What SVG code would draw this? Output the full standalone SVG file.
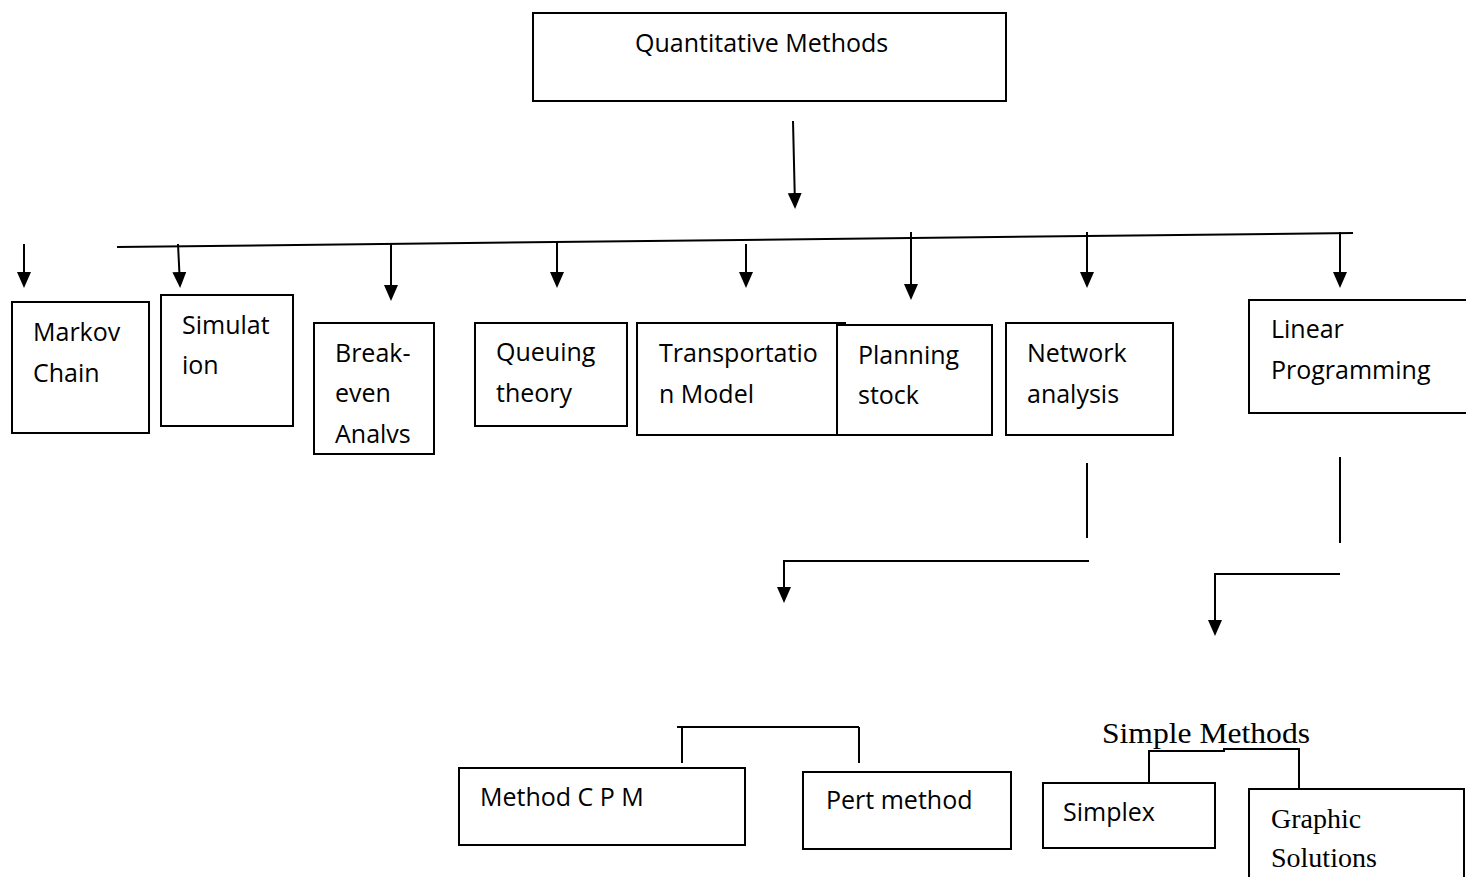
<svg xmlns="http://www.w3.org/2000/svg" width="1466" height="877" viewBox="0 0 1466 877">
<style>
.box{fill:#fff;stroke:#000;stroke-width:2}
.ln{fill:none;stroke:#000;stroke-width:2}
.t{font-family:"Open Sans","Liberation Sans",sans-serif;font-size:25px;fill:#000}
.s{font-family:"Liberation Serif","Times New Roman",serif;fill:#000}
</style>
<defs>
<marker id="ah" markerUnits="userSpaceOnUse" markerWidth="16" markerHeight="14" refX="13" refY="7" orient="auto">
<path d="M0,0 L16,7 L0,14 Z" fill="#000"/>
</marker>
</defs>
<rect width="1466" height="877" fill="#fff"/>
<g id="connectors">
<line class="ln" x1="793" y1="121" x2="795" y2="206" marker-end="url(#ah)"/>
<line class="ln" x1="117" y1="247" x2="1353" y2="233"/>
<line class="ln" x1="24" y1="244" x2="24" y2="285" marker-end="url(#ah)"/>
<line class="ln" x1="178" y1="244" x2="180" y2="285" marker-end="url(#ah)"/>
<line class="ln" x1="391" y1="244" x2="391" y2="298" marker-end="url(#ah)"/>
<line class="ln" x1="557" y1="242" x2="557" y2="285" marker-end="url(#ah)"/>
<line class="ln" x1="746" y1="244" x2="746" y2="285" marker-end="url(#ah)"/>
<line class="ln" x1="911" y1="232" x2="911" y2="297" marker-end="url(#ah)"/>
<line class="ln" x1="1087" y1="232" x2="1087" y2="285" marker-end="url(#ah)"/>
<line class="ln" x1="1340" y1="232" x2="1340" y2="285" marker-end="url(#ah)"/>
<line class="ln" x1="1087" y1="463" x2="1087" y2="538"/>
<path class="ln" d="M1089,561 H784 V600" marker-end="url(#ah)"/>
<line class="ln" x1="1340" y1="457" x2="1340" y2="543"/>
<path class="ln" d="M1340,574 H1215 V633" marker-end="url(#ah)"/>
<path class="ln" d="M682,763 V727 M677,727 H859 M859,727 V763"/>
<path class="ln" d="M1149,783 V751 H1224 V749 H1299 V789"/>
</g>
<g id="quantitative-methods">
<rect class="box" x="533" y="13" width="473" height="88"/>
<text class="t" x="635" y="52">Quantitative Methods</text>
</g>
<g id="markov-chain">
<rect class="box" x="12" y="302" width="137" height="131"/>
<text class="t" x="33" y="341">Markov</text>
<text class="t" x="33" y="382">Chain</text>
</g>
<g id="simulation">
<rect class="box" x="161" y="295" width="132" height="131"/>
<text class="t" x="182" y="334">Simulat</text>
<text class="t" x="182" y="374">ion</text>
</g>
<g id="break-even">
<rect class="box" x="314" y="323" width="120" height="131"/>
<text class="t" x="335" y="362">Break-</text>
<text class="t" x="335" y="402">even</text>
<text class="t" x="335" y="443">Analvs</text>
</g>
<g id="queuing-theory">
<rect class="box" x="475" y="323" width="152" height="103"/>
<text class="t" x="496" y="361">Queuing</text>
<text class="t" x="496" y="402">theory</text>
</g>
<g id="transportation-model">
<path class="ln" d="M846,323 H637 V435 H846"/>
<text class="t" x="659" y="362">Transportatio</text>
<text class="t" x="659" y="403">n Model</text>
</g>
<g id="planning-stock">
<rect class="box" x="837" y="325" width="155" height="110"/>
<text class="t" x="858" y="364">Planning</text>
<text class="t" x="858" y="404">stock</text>
</g>
<g id="network-analysis">
<rect class="box" x="1006" y="323" width="167" height="112"/>
<text class="t" x="1027" y="362">Network</text>
<text class="t" x="1027" y="403">analysis</text>
</g>
<g id="linear-programming">
<path class="ln" d="M1470,300 H1249 V413 H1470"/>
<text class="t" x="1271" y="338">Linear</text>
<text class="t" x="1271" y="379">Programming</text>
</g>
<g id="method-cpm">
<rect class="box" x="459" y="768" width="286" height="77"/>
<text class="t" x="480" y="806">Method C P M</text>
</g>
<g id="pert-method">
<rect class="box" x="803" y="772" width="208" height="77"/>
<text class="t" x="826" y="809">Pert method</text>
</g>
<g id="simple-methods">
<text class="s" x="1102" y="743" font-size="30" textLength="208" lengthAdjust="spacingAndGlyphs">Simple Methods</text>
</g>
<g id="simplex">
<rect class="box" x="1043" y="783" width="172" height="65"/>
<text class="t" x="1063" y="821">Simplex</text>
</g>
<g id="graphic-solutions">
<path class="ln" d="M1249,880 V789 H1464 V880"/>
<text class="s" x="1271" y="828" font-size="28">Graphic</text>
<text class="s" x="1271" y="867" font-size="28">Solutions</text>
</g>
</svg>
